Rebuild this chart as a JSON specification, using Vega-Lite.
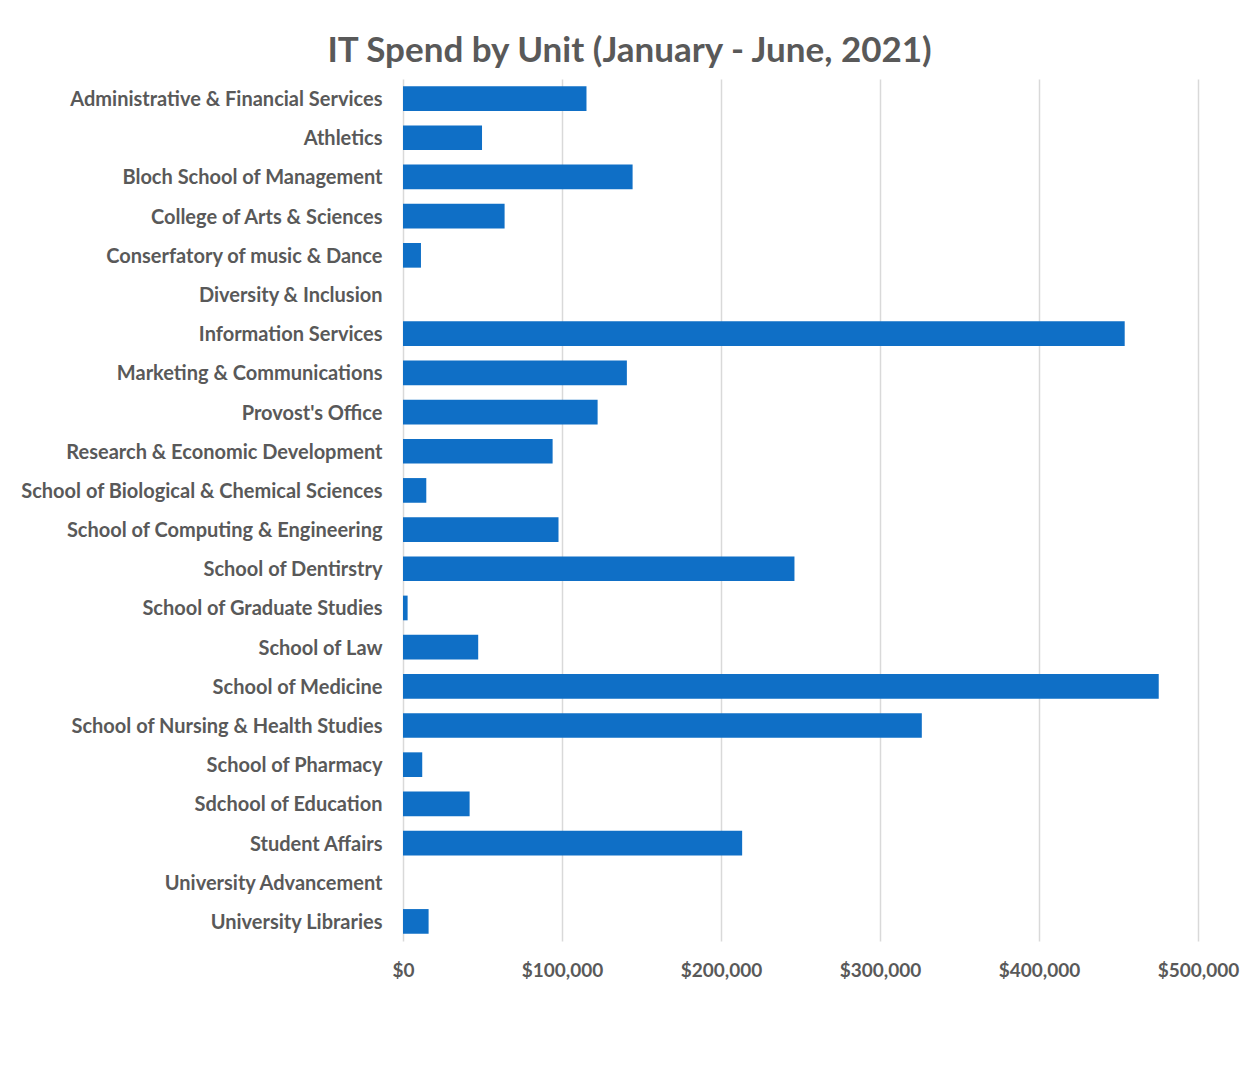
{
  "$schema": "https://vega.github.io/schema/vega-lite/v6.json",
  "autosize": {"type": "none"},
  "padding": {"left": 403, "top": 79, "right": 55, "bottom": 124},
  "width": 795,
  "height": 862,
  "background": "white",
  "title": {
    "text": "IT Spend by Unit (January - June, 2021)",
    "anchor": "middle",
    "frame": "bounds",
    "font": "Lato",
    "fontSize": 35,
    "fontWeight": "bold",
    "color": "#595959",
    "offset": 10
  },
  "data": {
    "values": [
      {"unit": "Administrative & Financial Services", "spend": 115400},
      {"unit": "Athletics", "spend": 49700},
      {"unit": "Bloch School of Management", "spend": 144400},
      {"unit": "College of Arts & Sciences", "spend": 63900},
      {"unit": "Conserfatory of music & Dance", "spend": 11300},
      {"unit": "Diversity & Inclusion", "spend": 0},
      {"unit": "Information Services", "spend": 453900},
      {"unit": "Marketing & Communications", "spend": 140800},
      {"unit": "Provost's Office", "spend": 122400},
      {"unit": "Research & Economic Development", "spend": 94100},
      {"unit": "School of Biological & Chemical Sciences", "spend": 14650},
      {"unit": "School of Computing & Engineering", "spend": 97800},
      {"unit": "School of Dentirstry", "spend": 246200},
      {"unit": "School of Graduate Studies", "spend": 2900},
      {"unit": "School of Law", "spend": 47300},
      {"unit": "School of Medicine", "spend": 475300},
      {"unit": "School of Nursing & Health Studies", "spend": 326300},
      {"unit": "School of Pharmacy", "spend": 12100},
      {"unit": "Sdchool of Education", "spend": 41900},
      {"unit": "Student Affairs", "spend": 213300},
      {"unit": "University Advancement", "spend": 0},
      {"unit": "University Libraries", "spend": 16100}
    ]
  },
  "mark": {"type": "bar", "color": "#0F6FC6"},
  "encoding": {
    "y": {
      "field": "unit",
      "type": "nominal",
      "sort": null,
      "title": null,
      "scale": {"paddingInner": 0.37, "paddingOuter": 0.185},
      "axis": {
        "ticks": false,
        "domain": false,
        "labelFont": "Lato",
        "labelFontSize": 20,
        "labelFontWeight": "bold",
        "labelColor": "#595959",
        "labelPadding": 21,
        "labelOffset": 1.5,
        "labelLimit": 400
      }
    },
    "x": {
      "field": "spend",
      "type": "quantitative",
      "title": null,
      "scale": {"domain": [0, 500000], "nice": false},
      "axis": {
        "values": [0, 100000, 200000, 300000, 400000, 500000],
        "format": "$,.0f",
        "ticks": false,
        "domain": false,
        "grid": true,
        "gridColor": "#D9D9D9",
        "gridWidth": 1.5,
        "labelFont": "Lato",
        "labelFontSize": 19,
        "labelFontWeight": "bold",
        "labelColor": "#595959",
        "labelPadding": 20,
        "labelFlush": false
      }
    }
  },
  "config": {"view": {"stroke": null}}
}
